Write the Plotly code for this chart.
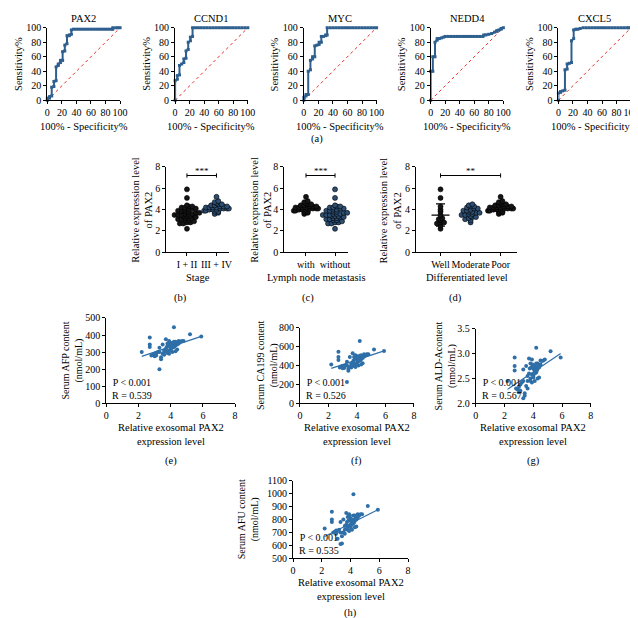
import numpy as np
import plotly.graph_objects as go

# ---------------- data ----------------
roc_names = ["PAX2", "CCND1", "MYC", "NEDD4", "CXCL5"]
roc_pax2 = [(0,0),(0,3),(3,3),(3,5),(6,6),(6,18),(9,19),(9,26),(12,27),(12,46),(15,48),(15,50),(18,52),(18,55),
            (21,55),(21,67),(24,68),(24,76),(27,78),(27,89),(30,89),(30,90),(33,91),(33,97),(36,98),(40,98),(44,98),
            (48,98),(52,98),(56,98),(60,98),(64,98),(68,98),(72,98),(76,98),(80,98),(84,98),(88,98),(90,98),(90,100),
            (94,100),(97,100),(100,100)]
roc_ccnd1 = [(0,0),(0,27),(3,29),(3,34),(6,35),(6,48),(9,50),(12,52),(12,57),(15,58),(15,68),(18,70),(18,80),(21,82),
             (21,87),(24,88),(24,100),(28,100),(32,100),(36,100),(40,100),(44,100),(48,100),(52,100),(56,100),(60,100),
             (64,100),(68,100),(72,100),(76,100),(80,100),(84,100),(88,100),(92,100),(96,100),(100,100)]
roc_myc = [(0,0),(0,4),(3,6),(3,8),(6,8),(6,40),(9,42),(9,55),(12,57),(12,60),(15,60),(15,75),(18,76),(21,77),(21,80),
           (24,80),(24,88),(27,88),(30,89),(30,90),(32,90),(32,100),(36,100),(40,100),(44,100),(48,100),(52,100),
           (56,100),(60,100),(64,100),(68,100),(72,100),(76,100),(80,100),(84,100),(88,100),(92,100),(96,100),(100,100)]
roc_nedd4 = [(0,0),(0,40),(3,40),(3,60),(6,60),(6,80),(9,83),(9,85),(12,85),(15,86),(18,87),(20,88),(24,88),(28,88),
             (32,88),(36,88),(40,88),(44,88),(48,88),(52,88),(56,88),(60,88),(64,88),(68,88),(72,88),(73,90),(76,90),
             (80,91),(84,92),(88,94),(91,95),(91,96),(94,97),(97,98),(97,99),(100,100)]
roc_cxcl5 = [(0,0),(0,10),(3,11),(3,12),(6,13),(9,14),(9,42),(12,43),(12,50),(15,51),(18,52),(18,82),(21,85),(21,97),
             (24,98),(27,98),(30,99),(34,100),(38,100),(42,100),(46,100),(50,100),(54,100),(58,100),(62,100),(66,100),
             (70,100),(74,100),(78,100),(82,100),(86,100),(90,100),(94,100),(97,100),(100,100)]
roc_ticks = [0, 20, 40, 60, 80, 100]

# group dot plots
stage_labels = ["I + II", "III + IV"]
stage_early = [2.2, 2.7, 2.7, 2.8, 2.8, 2.9, 3.0, 3.0, 3.1, 3.1, 3.2, 3.2, 3.3, 3.3, 3.4, 3.4, 3.4, 3.5, 3.5, 3.5,
               3.6, 3.6, 3.6, 3.7, 3.7, 3.8, 3.8, 3.9, 3.9, 4.0, 4.0, 4.1, 4.1, 4.2, 4.2, 4.3, 4.3, 4.4, 5.1, 5.9]
stage_late = [3.6, 3.7, 3.8, 3.8, 3.9, 3.9, 4.0, 4.0, 4.0, 4.1, 4.1, 4.1, 4.1, 4.2, 4.2, 4.2, 4.2, 4.3, 4.3, 4.3,
              4.4, 4.4, 4.5, 4.5, 4.6, 4.7, 4.8, 5.2]
lymph_labels = ["with", "without"]
lymph_with = [3.6, 3.7, 3.8, 3.8, 3.9, 3.9, 4.0, 4.0, 4.0, 4.1, 4.1, 4.1, 4.1, 4.2, 4.2, 4.2, 4.2, 4.3, 4.3, 4.3,
              4.4, 4.4, 4.5, 4.5, 4.6, 4.7, 4.8, 5.2]
lymph_without = [2.2, 2.7, 2.7, 2.8, 2.8, 2.9, 3.0, 3.0, 3.1, 3.1, 3.2, 3.2, 3.3, 3.3, 3.4, 3.4, 3.4, 3.5, 3.5, 3.5,
                 3.6, 3.6, 3.6, 3.7, 3.7, 3.8, 3.8, 3.9, 3.9, 4.0, 4.0, 4.1, 4.1, 4.2, 4.2, 4.3, 4.3, 4.4, 5.1, 5.9]
diff_labels = ["Well", "Moderate", "Poor"]
diff_well = [2.2, 2.5, 2.7, 2.8, 2.8, 3.0, 3.1, 3.2, 3.5, 3.8, 4.0, 4.3, 5.1, 5.9]
diff_moderate = [2.8, 3.0, 3.1, 3.2, 3.3, 3.3, 3.4, 3.5, 3.5, 3.6, 3.6, 3.7, 3.7, 3.8, 3.8, 3.9, 3.9, 4.0, 4.1, 4.1,
                 4.2, 4.3, 4.3, 4.4, 4.5]
diff_poor = [3.6, 3.7, 3.8, 3.8, 3.9, 3.9, 4.0, 4.0, 4.0, 4.1, 4.1, 4.1, 4.1, 4.2, 4.2, 4.2, 4.2, 4.3, 4.3, 4.3,
             4.4, 4.4, 4.5, 4.5, 4.6, 4.7, 4.8, 5.2]

# correlation panels (same patients)
pax2_expr = [2.2, 2.7, 2.7, 2.7, 2.8, 2.9, 3.0, 3.0, 3.1, 3.1, 3.2, 3.3, 3.3, 3.4, 3.4, 3.5, 3.5, 3.6, 3.6, 3.7,
             3.7, 3.75, 3.8, 3.8, 3.8, 3.85, 3.9, 3.9, 3.9, 3.95, 4.0, 4.0, 4.0, 4.05, 4.1, 4.1, 4.1, 4.15, 4.2, 4.2,
             4.2, 4.25, 4.3, 4.3, 4.3, 4.35, 4.4, 4.4, 4.5, 4.5, 4.6, 4.7, 4.8, 5.2, 5.9, 3.6, 3.3, 4.0, 4.2, 4.1]
serum_afp = [300, 385, 345, 330, 280, 285, 290, 275, 295, 280, 300, 200, 325, 270, 258, 290, 345, 300, 310, 375,
             320, 330, 305, 295, 350, 340, 365, 310, 290, 355, 340, 320, 355, 345, 335, 350, 300, 340, 445, 330,
             345, 335, 360, 340, 305, 350, 345, 315, 365, 350, 360, 365, 365, 405, 392, 285, 300, 310, 360, 325]
serum_ca199 = [410, 545, 490, 460, 380, 390, 395, 370, 390, 375, 400, 225, 440, 365, 345, 385, 490, 395, 420, 530,
               430, 450, 410, 395, 490, 470, 510, 420, 385, 500, 470, 430, 495, 480, 460, 490, 400, 470, 660, 450,
               480, 460, 510, 470, 410, 490, 480, 425, 520, 495, 510, 520, 520, 570, 555, 380, 400, 420, 505, 445]
serum_alda = [2.45, 2.92, 2.75, 2.66, 2.30, 2.28, 2.33, 2.22, 2.38, 2.25, 2.42, 2.10, 2.68, 2.20, 2.15, 2.35, 2.75,
              2.45, 2.55, 2.90, 2.60, 2.70, 2.50, 2.45, 2.80, 2.72, 2.88, 2.58, 2.42, 2.78, 2.70, 2.55, 2.76, 2.68,
              2.65, 2.74, 2.45, 2.66, 3.12, 2.62, 2.72, 2.66, 2.80, 2.70, 2.50, 2.76, 2.72, 2.52, 2.86, 2.78, 2.85,
              2.86, 2.88, 3.05, 2.92, 2.30, 2.45, 2.52, 2.80, 2.60]
serum_afu = [730, 860, 800, 780, 700, 705, 715, 690, 710, 650, 720, 610, 780, 615, 670, 700, 800, 720, 750, 850,
             760, 780, 740, 720, 820, 790, 840, 750, 710, 830, 790, 760, 810, 790, 780, 800, 720, 790, 995, 770,
             795, 780, 830, 790, 740, 810, 800, 745, 840, 815, 830, 840, 840, 905, 875, 690, 700, 740, 830, 760]
fit_x = [2.2, 5.9]
fit_afp = [275, 392]
fit_ca199 = [370, 555]
fit_alda = [2.28, 3.0]
fit_afu = [668, 875]
corr_r = ["0.539", "0.526", "0.567", "0.535"]

# ---------------- figure helpers ----------------
W, H = 638, 618
FONT = "Liberation Serif"
ROC_C = "#2E5F8E"
DOT_C = "#2F6FA8"
fig = go.Figure()
layout = {}
annotations = []
count = [0]


def add_axes(x0, x1, y0, y1, xr, yr, xtick, ytick, xtext=None, yfmt=None, tsize=10):
    count[0] += 1
    n = count[0]
    xa = "xaxis" if n == 1 else f"xaxis{n}"
    ya = "yaxis" if n == 1 else f"yaxis{n}"
    xref = "x" if n == 1 else f"x{n}"
    yref = "y" if n == 1 else f"y{n}"
    common = dict(showline=True, linecolor="black", linewidth=1, tickwidth=1, ticklen=3, ticks="outside",
                  tickcolor="black", showgrid=False, zeroline=False, fixedrange=True, tickangle=0,
                  tickfont=dict(family=FONT, size=tsize, color="black"))
    xd = dict(domain=[x0 / W, x1 / W], range=xr, anchor=yref, tickvals=xtick, **common)
    if xtext is not None:
        xd["ticktext"] = xtext
    yd = dict(domain=[1 - y1 / H, 1 - y0 / H], range=yr, anchor=xref, tickvals=ytick, **common)
    if yfmt is not None:
        yd["tickformat"] = yfmt
    layout[xa] = xd
    layout[ya] = yd
    return xref, yref


def txt(x, y, s, size=10.5, angle=0, xanchor="center"):
    annotations.append(dict(x=x / W, y=1 - y / H, xref="paper", yref="paper", text=s, showarrow=False,
                            font=dict(family=FONT, size=size, color="black"), textangle=angle,
                            xanchor=xanchor, yanchor="middle", borderpad=0))


# ---------------- (a) ROC curves ----------------
roc_sets = [roc_pax2, roc_ccnd1, roc_myc, roc_nedd4, roc_cxcl5]
roc_left = [37, 167, 298, 427, 557]
for name, pts, left in zip(roc_names, roc_sets, roc_left):
    xr_, yr_ = add_axes(left, left + 74, 14, 88, [0, 100], [0, 100], roc_ticks, roc_ticks, tsize=10)
    fig.add_trace(go.Scatter(x=[0, 100], y=[0, 100], mode="lines", xaxis=xr_, yaxis=yr_,
                             line=dict(color="#E8302A", width=1, dash="dot"), showlegend=False))
    fx = [p[0] for p in pts]
    fy = [p[1] for p in pts]
    fig.add_trace(go.Scatter(x=fx, y=fy, mode="lines+markers", xaxis=xr_, yaxis=yr_, cliponaxis=False,
                             line=dict(color=ROC_C, width=2), marker=dict(symbol="square", size=3, color=ROC_C),
                             showlegend=False))
    txt(left + 37, 5, name)
    txt(left - 30, 51, "Sensitivity%", angle=-90)
    txt(left + 37, 115, "100% - Specificity%")
txt(311, 127, "(a)")


# ---------------- (b)(c)(d) dot plots ----------------
def swarm(vals, step=0.2, width=0.12, maxw=0.42):
    v = np.asarray(vals, dtype=float)
    bins = np.round(v / step)
    off = np.zeros(len(v))
    for b in np.unique(bins):
        idx = np.where(bins == b)[0]
        k = len(idx)
        off[idx] = np.clip((np.arange(k) - (k - 1) / 2) * width, -maxw, maxw)
    return off


def dot_panel(x0, x1, xr, labels, groups, colors, bracket, stars, xtitle, ytitle_x, label_x, panel):
    xr_, yr_ = add_axes(x0, x1, 156, 243, xr, [0, 8], list(range(len(labels))), [0, 2, 4, 6, 8],
                        xtext=labels, tsize=10)
    for i, (g, c) in enumerate(zip(groups, colors)):
        m = float(np.mean(g))
        s = float(np.std(g, ddof=1))
        fig.add_trace(go.Scatter(x=[i - 0.3, i + 0.3, None, i, i, None, i - 0.15, i + 0.15, None, i - 0.15, i + 0.15],
                                 y=[m, m, None, m - s, m + s, None, m - s, m - s, None, m + s, m + s],
                                 mode="lines", xaxis=xr_, yaxis=yr_, line=dict(color="black", width=1.2),
                                 showlegend=False))
        off = swarm(g)
        fig.add_trace(go.Scatter(x=i + off, y=g, mode="markers", xaxis=xr_, yaxis=yr_, cliponaxis=False,
                                 marker=dict(size=5, color=c, line=dict(color="black", width=0.6)),
                                 showlegend=False))
    a, b = bracket
    fig.add_trace(go.Scatter(x=[a, b, None, a, a, None, b, b], y=[7.2, 7.2, None, 7.0, 7.4, None, 7.0, 7.4],
                             mode="lines", xaxis=xr_, yaxis=yr_, line=dict(color="black", width=1),
                             showlegend=False))
    fig.add_annotation(x=(a + b) / 2, y=7.6, xref=xr_, yref=yr_, text=stars, showarrow=False,
                       font=dict(family=FONT, size=9, color="black"))
    txt((x0 + x1) / 2, 269, xtitle)
    txt(ytitle_x, 200, "Relative expression level<br>of PAX2", size=10.5, angle=-90)
    txt(label_x, 290, panel)


DARK = "#151515"
BLUE = "#2C4E72"
dot_panel(158, 222, [-0.7, 1.43], stage_labels, [stage_early, stage_late], [DARK, BLUE], (0, 1), "***",
          "Stage", 133, 172, "(b)")
dot_panel(278, 343, [-0.75, 1.45], lymph_labels, [lymph_with, lymph_without], [DARK, BLUE], (0, 1), "***",
          "Lymph node metastasis", 254, 302, "(c)")
dot_panel(412, 515, [-0.82, 2.55], diff_labels, [diff_well, diff_moderate, diff_poor], [DARK, BLUE, DARK],
          (0, 2), "**", "Differentiated level", 386, 452, "(d)")


# ---------------- (e)-(h) correlations ----------------
def corr_panel(x0, x1, y0, y1, yr, yticks, yfmt, yvals, fit_y, ytitle, ytitle_x, r, panel, label_y):
    xr_, yr_ = add_axes(x0, x1, y0, y1, [0, 8], yr, [0, 2, 4, 6, 8], yticks, yfmt=yfmt, tsize=10)
    fig.add_trace(go.Scatter(x=pax2_expr, y=yvals, mode="markers", xaxis=xr_, yaxis=yr_,
                             marker=dict(size=4, color=DOT_C), showlegend=False))
    fig.add_trace(go.Scatter(x=fit_x, y=fit_y, mode="lines", xaxis=xr_, yaxis=yr_,
                             line=dict(color=DOT_C, width=1.2), showlegend=False))
    cx = (x0 + x1) / 2
    txt(x0 + 5, y1 - 15, "P &lt; 0.001<br>R = " + r, size=10, xanchor="left")
    txt(ytitle_x, (y0 + y1) / 2, ytitle + "<br>(nmol/mL)", size=10, angle=-90)
    txt(cx, y1 + 32, "Relative exosomal PAX2<br>expression level")
    txt(cx, label_y, panel)


corr_panel(97, 228, 310, 397, [0, 500], [0, 100, 200, 300, 400, 500], None, serum_afp, fit_afp,
           "Serum AFP content", 63, corr_r[0], "(e)", 456)
corr_panel(294, 410, 320, 397, [0, 800], [0, 200, 400, 600, 800], None, serum_ca199, fit_ca199,
           "Serum CA199 content", 261, corr_r[1], "(f)", 456)
corr_panel(473, 590, 321, 397, [2.0, 3.5], [2.0, 2.5, 3.0, 3.5], ".1f", serum_alda, fit_alda,
           "Serum ALD-Acontent", 442, corr_r[2], "(g)", 456)
corr_panel(287, 404, 476, 555, [500, 1100], [500, 600, 700, 800, 900, 1000, 1100], None, serum_afu, fit_afu,
           "Serum AFU content", 242, corr_r[3], "(h)", 611)

fig.update_layout(width=W, height=H, margin=dict(l=0, r=0, t=0, b=0), plot_bgcolor="white",
                  paper_bgcolor="white", showlegend=False, font=dict(family=FONT, size=11, color="black"),
                  annotations=list(fig.layout.annotations) + annotations, **layout)
fig.write_html("out.html")
